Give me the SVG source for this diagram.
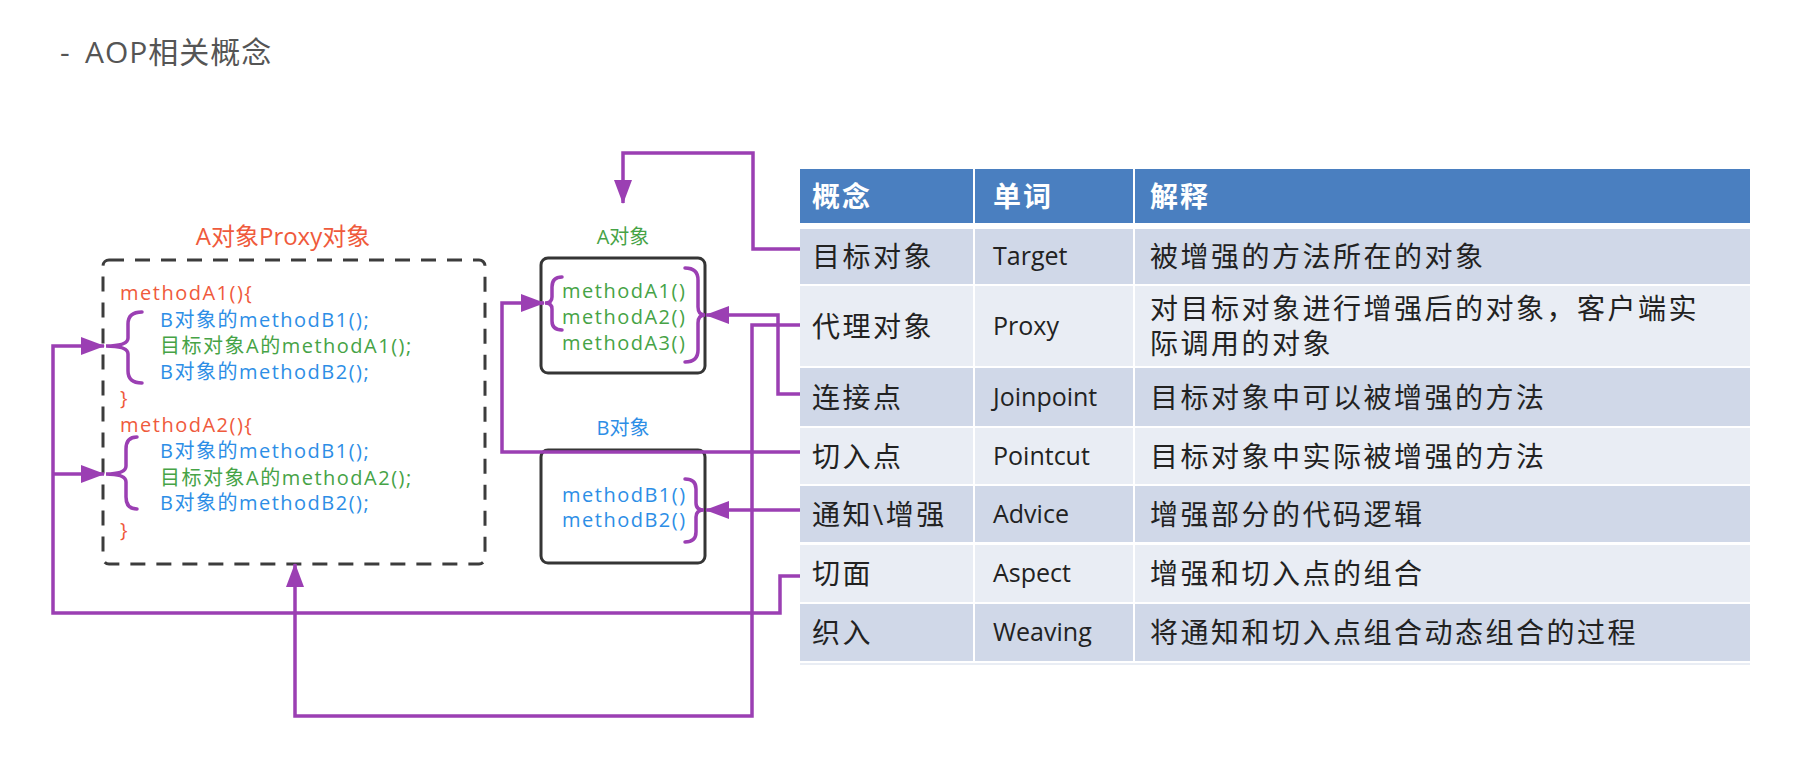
<svg xmlns="http://www.w3.org/2000/svg" width="1794" height="760" viewBox="0 0 1794 760">
<defs>
<style>
text{font-family:"Open Sans","Noto Sans CJK SC",sans-serif;}
.title{font-size:30px;fill:#555;letter-spacing:1px;}
.code{font-size:20px;letter-spacing:1.5px;}
.red{fill:#ef5a3c;}
.blue{fill:#2d8ee6;}
.green{fill:#46a346;}
.box{fill:none;stroke:#353535;stroke-width:3;}
.dash{fill:none;stroke:#3c3c3c;stroke-width:3;stroke-dasharray:15 11;}
.brace{fill:none;stroke:#9b3fb3;stroke-width:3.5;stroke-linecap:round;}
.conn{fill:none;stroke:#9b3fb3;stroke-width:3.5;}
.hdr{fill:#4a7fc0;}
.dark{fill:#d0d8e8;}
.light{fill:#e9edf4;}
.th{font-size:28px;font-weight:bold;fill:#fff;letter-spacing:2px;}
.td{font-size:28px;fill:#222;letter-spacing:2.5px;}
.tw{font-size:25px;fill:#222;}
</style>
<marker id="arr" markerUnits="userSpaceOnUse" markerWidth="24" markerHeight="18" viewBox="0 0 24 18" refX="23" refY="9" orient="auto">
<path d="M0,0 L24,9 L0,18 z" fill="#9b3fb3"/>
</marker>
</defs>
<rect width="1794" height="760" fill="#fff"/>
<text class="title" x="60" y="63">-</text>
<text class="title" x="85" y="63">AOP相关概念</text>

<g id="proxy">
<text class="red" x="283" y="245" font-size="24" text-anchor="middle">A对象Proxy对象</text>
<rect class="dash" x="103" y="260" width="382" height="304" rx="6"/>
<text class="code red" x="120" y="300">methodA1(){</text>
<text class="code blue" x="160" y="327">B对象的methodB1();</text>
<text class="code green" x="160" y="353">目标对象A的methodA1();</text>
<text class="code blue" x="160" y="379">B对象的methodB2();</text>
<text class="code red" x="120" y="405">}</text>
<text class="code red" x="120" y="432">methodA2(){</text>
<text class="code blue" x="160" y="458">B对象的methodB1();</text>
<text class="code green" x="160" y="485">目标对象A的methodA2();</text>
<text class="code blue" x="160" y="510">B对象的methodB2();</text>
<text class="code red" x="120" y="537">}</text>
<path class="brace" d="M142,312 Q128,312 128,324 L128,338 Q128,346 106,346 Q128,346 128,354 L128,371 Q128,383 142,383"/>
<path class="brace" d="M137,437 Q126,437 126,449 L126,466 Q126,474 106,474 Q126,474 126,482 L126,497 Q126,509 137,509"/>
</g>

<g id="objA">
<text class="green" x="623" y="244" font-size="20" text-anchor="middle">A对象</text>
<rect class="box" x="541" y="258" width="164" height="115" rx="7"/>
<text class="code green" x="562" y="298">methodA1()</text>
<text class="code green" x="562" y="324">methodA2()</text>
<text class="code green" x="562" y="350">methodA3()</text>
<path class="brace" d="M562,277 Q552,277 552,287 L552,297 Q552,303 545,303 Q552,303 552,309 L552,321 Q552,330 562,330"/>
<path class="brace" d="M685,268 Q698,268 698,280 L698,307 Q698,315 705,315 Q698,315 698,323 L698,350 Q698,362 685,362"/>
</g>

<g id="objB">
<text class="blue" x="623" y="435" font-size="20" text-anchor="middle">B对象</text>
<rect class="box" x="541" y="450" width="164" height="113" rx="7"/>
<text class="code blue" x="562" y="502">methodB1()</text>
<text class="code blue" x="562" y="527">methodB2()</text>
<path class="brace" d="M685,479 Q696,479 696,489 L696,503 Q696,510 704,510 Q696,510 696,517 L696,532 Q696,542 685,542"/>
</g>

<g id="table">
<g id="row-header">
<rect class="hdr" x="800" y="169" width="173" height="54"/>
<rect class="hdr" x="975" y="169" width="158" height="54"/>
<rect class="hdr" x="1135" y="169" width="615" height="54"/>
<text class="th" x="812" y="207">概念</text>
<text class="th" x="993" y="207">单词</text>
<text class="th" x="1150" y="207">解释</text>
</g>
<g id="row-target">
<rect class="dark" x="800" y="229" width="173" height="55"/>
<rect class="dark" x="975" y="229" width="158" height="55"/>
<rect class="dark" x="1135" y="229" width="615" height="55"/>
<text class="td" x="812" y="267">目标对象</text>
<text class="tw" x="993" y="265">Target</text>
<text class="td" x="1150" y="267">被增强的方法所在的对象</text>
</g>
<g id="row-proxy">
<rect class="light" x="800" y="286" width="173" height="80"/>
<rect class="light" x="975" y="286" width="158" height="80"/>
<rect class="light" x="1135" y="286" width="615" height="80"/>
<text class="td" x="812" y="337">代理对象</text>
<text class="tw" x="993" y="335">Proxy</text>
<text class="td" x="1150" y="319">对目标对象进行增强后的对象，客户端实</text>
<text class="td" x="1150" y="354">际调用的对象</text>
</g>
<g id="row-joinpoint">
<rect class="dark" x="800" y="368" width="173" height="58"/>
<rect class="dark" x="975" y="368" width="158" height="58"/>
<rect class="dark" x="1135" y="368" width="615" height="58"/>
<text class="td" x="812" y="408">连接点</text>
<text class="tw" x="993" y="406">Joinpoint</text>
<text class="td" x="1150" y="408">目标对象中可以被增强的方法</text>
</g>
<g id="row-pointcut">
<rect class="light" x="800" y="428" width="173" height="56"/>
<rect class="light" x="975" y="428" width="158" height="56"/>
<rect class="light" x="1135" y="428" width="615" height="56"/>
<text class="td" x="812" y="467">切入点</text>
<text class="tw" x="993" y="465">Pointcut</text>
<text class="td" x="1150" y="467">目标对象中实际被增强的方法</text>
</g>
<g id="row-advice">
<rect class="dark" x="800" y="486" width="173" height="56"/>
<rect class="dark" x="975" y="486" width="158" height="56"/>
<rect class="dark" x="1135" y="486" width="615" height="56"/>
<text class="td" x="812" y="525">通知\增强</text>
<text class="tw" x="993" y="523">Advice</text>
<text class="td" x="1150" y="525">增强部分的代码逻辑</text>
</g>
<g id="row-aspect">
<rect class="light" x="800" y="545" width="173" height="57"/>
<rect class="light" x="975" y="545" width="158" height="57"/>
<rect class="light" x="1135" y="545" width="615" height="57"/>
<text class="td" x="812" y="584">切面</text>
<text class="tw" x="993" y="582">Aspect</text>
<text class="td" x="1150" y="584">增强和切入点的组合</text>
</g>
<g id="row-weaving">
<rect class="dark" x="800" y="604" width="173" height="57"/>
<rect class="dark" x="975" y="604" width="158" height="57"/>
<rect class="dark" x="1135" y="604" width="615" height="57"/>
<text class="td" x="812" y="643">织入</text>
<text class="tw" x="993" y="641">Weaving</text>
<text class="td" x="1150" y="643">将通知和切入点组合动态组合的过程</text>
</g>
<rect class="light" x="800" y="663" width="950" height="2"/>
</g>

<g id="connectors">
<path class="conn" d="M800,249 H753 V153 H623 V203" marker-end="url(#arr)"/>
<path class="conn" d="M800,325 H752 V716 H295 V564" marker-end="url(#arr)"/>
<path class="conn" d="M800,394 H778 V315 H706" marker-end="url(#arr)"/>
<path class="conn" d="M800,452 H502 V303 H544" marker-end="url(#arr)"/>
<path class="conn" d="M800,510 H706" marker-end="url(#arr)"/>
<path class="conn" d="M800,576 H780 V613 H53 V346 H104" marker-end="url(#arr)"/>
<path class="conn" d="M53,474 H104" marker-end="url(#arr)"/>
</g>
</svg>
